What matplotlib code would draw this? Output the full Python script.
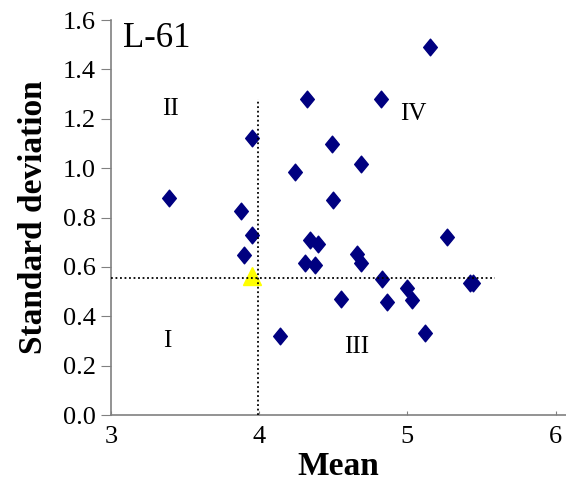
import matplotlib
matplotlib.use("Agg")
import matplotlib.pyplot as plt
from matplotlib.path import Path

plt.rcParams['font.family'] = ['Liberation Serif', 'DejaVu Serif']

# cultivar means and standard deviations
mean_vals = [3.39, 3.88, 3.90, 3.955, 3.95, 4.14, 4.24, 4.31, 4.32, 4.34,
             4.38, 4.40, 4.49, 4.50, 4.55, 4.66, 4.69, 4.69, 4.82, 4.83,
             4.86, 5.00, 5.03, 5.12, 5.15, 5.27, 5.42, 5.44]
sd_vals = [0.881, 0.826, 0.648, 0.731, 1.124, 0.321, 0.985, 0.614, 1.282, 0.711,
           0.607, 0.691, 1.100, 0.870, 0.470, 0.652, 0.614, 1.019, 1.282, 0.553,
           0.456, 0.513, 0.466, 0.333, 1.491, 0.722, 0.533, 0.533]

# L-61 itself
ref_mean = 3.955
ref_sd = 0.563

# reference lines
vline_x = 3.99
vline_top = 1.28
hline_y = 0.556
hline_right = 5.59

quadrants = ['I', 'II', 'III', 'IV']
quad_pos = [(3.38, 0.30), (3.40, 1.24), (4.66, 0.275), (5.04, 1.22)]

x_ticks = [3, 4, 5, 6]
y_ticks = [0.0, 0.2, 0.4, 0.6, 0.8, 1.0, 1.2, 1.4, 1.6]

diamond = Path([(0, 1), (0.82, 0), (0, -1), (-0.82, 0), (0, 1)],
               [Path.MOVETO, Path.LINETO, Path.LINETO, Path.LINETO, Path.CLOSEPOLY])

fig = plt.figure(figsize=(5.66, 4.90), dpi=100)
ax = fig.add_axes([0.196, 0.153, 0.804, 0.806])

ax.plot(mean_vals, sd_vals, linestyle='none', marker=diamond, markersize=12,
        color='#000080', zorder=2)
ax.plot([ref_mean], [ref_sd], linestyle='none', marker='^', markersize=13,
        color='#FFFF00', zorder=2)

ax.plot([vline_x, vline_x], [0, vline_top], color='black', linestyle=(0, (1, 1.5)),
        lw=1.3, zorder=3)
ax.plot([3, hline_right], [hline_y, hline_y], color='black', linestyle=(0, (1, 1.5)),
        lw=1.3, zorder=3)

for q, (qx, qy) in zip(quadrants, quad_pos):
    ax.text(qx, qy, q, fontsize=18, ha='center', va='center')
ax.text(3.31, 1.525, 'L-61', fontsize=25, ha='center', va='center')

ax.set_xlim(3, 6.07)
ax.set_ylim(0, 1.6)
ax.set_xticks(x_ticks)
ax.set_yticks(y_ticks)
ax.set_yticklabels(['%.1f' % v for v in y_ticks])

for s in ['top', 'right']:
    ax.spines[s].set_visible(False)
for s in ['left', 'bottom']:
    ax.spines[s].set_color('#808080')
    ax.spines[s].set_linewidth(1.2)

ax.tick_params(axis='y', direction='out', length=7, color='#808080', labelsize=19, pad=4)
ax.tick_params(axis='x', direction='in', length=3, color='#808080', labelsize=19, pad=8)

ax.set_xlabel('Mean', fontsize=24, fontweight='bold', labelpad=2)
ax.set_ylabel('Standard deviation', fontsize=24, fontweight='bold', labelpad=10)

fig.savefig('out.png', dpi=100)
